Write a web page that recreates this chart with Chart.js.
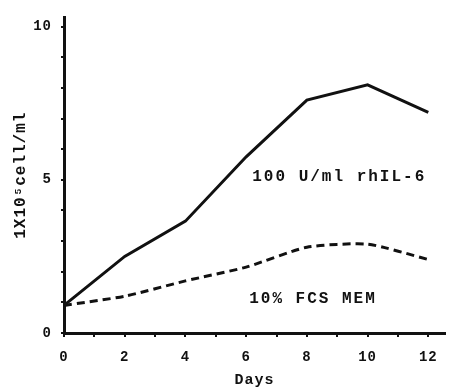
<!DOCTYPE html>
<html>
<head>
<meta charset="utf-8">
<script src="https://cdn.jsdelivr.net/npm/chart.js@4.4.1/dist/chart.umd.min.js"></script>
<style>
  body { margin: 0; background: #fff; }
</style>
</head>
<body>
<canvas id="chart" width="449" height="390"></canvas>
<script>
// data (cells x10^5 / ml)
const days = [0, 2, 4, 6, 8, 10, 12];
const il6Cells = [0.9, 2.5, 3.65, 5.75, 7.6, 8.1, 7.2];
const memCells = [0.9, 1.2, 1.7, 2.15, 2.8, 2.9, 2.4];
const seriesNames = ['100 U/ml rhIL-6', '10% FCS MEM'];
const xTickLabels = [0, 2, 4, 6, 8, 10, 12];
const yTickLabels = [0, 5, 10];

const ink = '#111';
const mono = "'Liberation Mono', 'DejaVu Sans Mono', monospace";

// series names written next to the curves, like on the original
const curveLabels = {
  id: 'curveLabels',
  beforeDraw(chart) {
    // typewriter look: a bit of spacing for all text
    chart.ctx.letterSpacing = '1px';
  },
  afterDatasetsDraw(chart) {
    const { ctx, scales } = chart;
    const spots = [[6.2, 5.1], [6.1, 1.1]];
    ctx.save();
    ctx.letterSpacing = '2px';
    ctx.font = 'bold 16px ' + mono;
    ctx.fillStyle = ink;
    ctx.textBaseline = 'middle';
    seriesNames.forEach((name, i) => {
      ctx.fillText(name, scales.x.getPixelForValue(spots[i][0]), scales.y.getPixelForValue(spots[i][1]));
    });
    ctx.restore();
  }
};

const toPoints = (vals) => days.map((d, i) => ({ x: d, y: vals[i] }));

new Chart(document.getElementById('chart'), {
  type: 'line',
  data: {
    datasets: [
      {
        label: seriesNames[0],
        data: toPoints(il6Cells),
        borderColor: ink,
        borderWidth: 3,
        pointRadius: 0,
        tension: 0
      },
      {
        label: seriesNames[1],
        data: toPoints(memCells),
        borderColor: ink,
        borderWidth: 3,
        borderDash: [8, 5],
        pointRadius: 0,
        tension: 0.2
      }
    ]
  },
  options: {
    responsive: false,
    devicePixelRatio: 1,
    animation: false,
    layout: { padding: { top: 5, right: 4, left: 0, bottom: 0 } },
    plugins: { legend: { display: false }, tooltip: { enabled: false } },
    scales: {
      x: {
        type: 'linear',
        min: 0,
        max: 12.55,
        afterFit: (s) => { s.height = 57; },
        border: { color: ink, width: 3 },
        grid: { drawOnChartArea: false, drawTicks: true, tickLength: 4, color: ink, lineWidth: 2 },
        ticks: {
          stepSize: 1,
          includeBounds: false,
          autoSkip: false,
          maxRotation: 0,
          padding: 12,
          color: ink,
          font: { family: mono, size: 14, weight: 'bold' },
          callback: (v) => xTickLabels.includes(v) ? v : ''
        },
        title: {
          display: true,
          text: 'Days',
          color: ink,
          font: { family: mono, size: 15, weight: 'bold' },
          padding: { top: 0, bottom: 1 }
        }
      },
      y: {
        min: 0,
        max: 10.3,
        afterFit: (s) => { s.width = 64; },
        border: { color: ink, width: 3 },
        grid: { drawOnChartArea: false, drawTicks: true, tickLength: 3, color: ink, lineWidth: 2 },
        ticks: {
          stepSize: 1,
          includeBounds: false,
          padding: 9,
          color: ink,
          font: { family: mono, size: 14, weight: 'bold' },
          callback: (v) => yTickLabels.includes(v) ? v : ''
        },
        title: {
          display: true,
          text: '1X10⁵cell/ml',
          color: ink,
          font: { family: mono, size: 16, weight: 'bold' },
          padding: { top: 11, bottom: 0 }
        }
      }
    }
  },
  plugins: [curveLabels]
});
</script>
</body>
</html>
